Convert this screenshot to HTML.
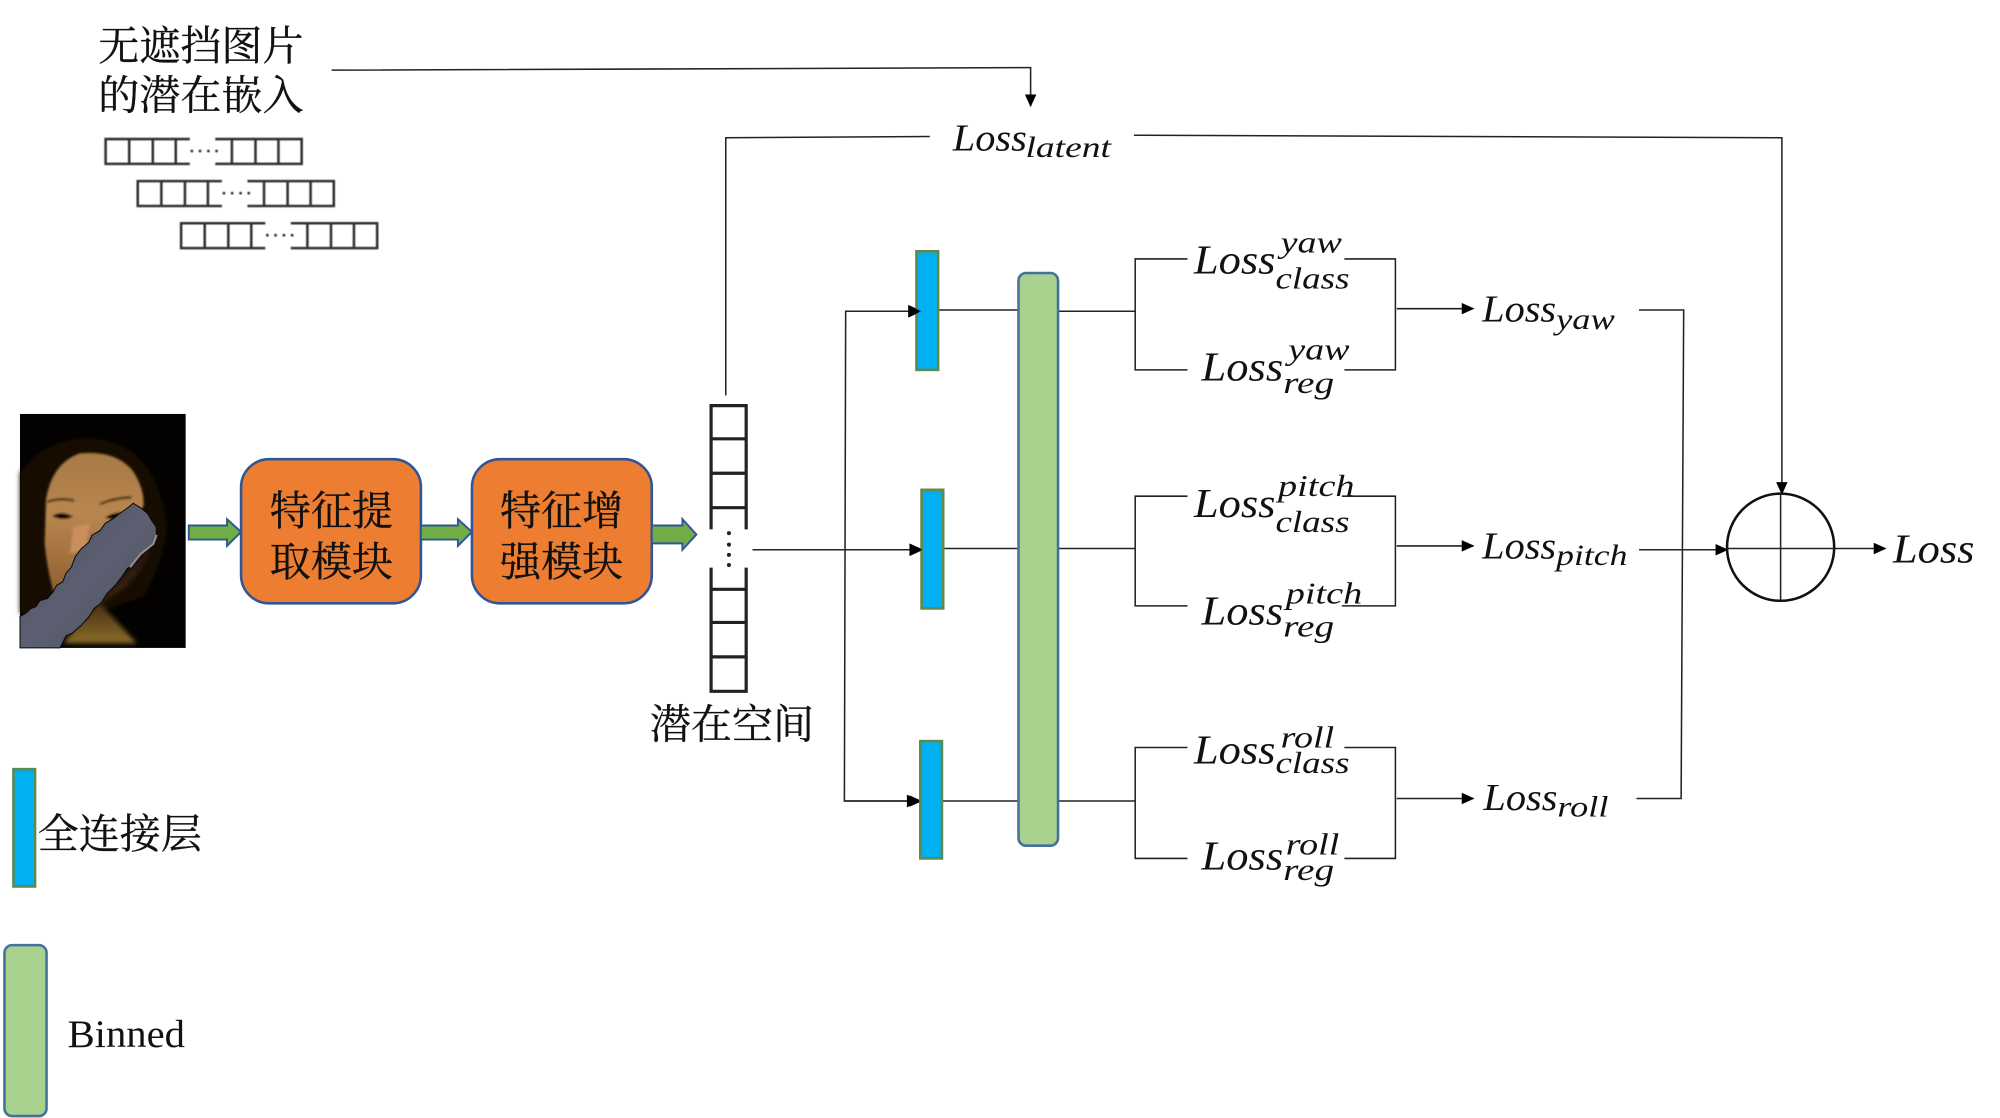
<!DOCTYPE html>
<html><head><meta charset="utf-8"><style>
html,body{margin:0;padding:0;background:#fff}
svg.root{display:block;width:2000px;height:1118px}
.cn{font-family:"Liberation Serif","Noto Serif CJK SC",serif;font-size:32.2px;fill:#111;stroke:#111;stroke-width:.25}
.m{font-family:"Liberation Serif",serif;font-style:italic;fill:#111}
.b{font-size:32px}.s{font-size:24px}.t{font-size:30px}.u{font-size:23px}
.l{fill:none;stroke:#222;stroke-width:1.2}
.c{fill:none;stroke:#333;stroke-width:2}
</style></head><body>
<svg class="root" viewBox="0 0 1568 876.5" xmlns="http://www.w3.org/2000/svg">
<defs>
<marker id="a" markerWidth="10" markerHeight="10" refX="9" refY="4.5" orient="auto" markerUnits="userSpaceOnUse"><path d="M0 0L10 4.5L0 9Z" fill="#000"/></marker>
<linearGradient id="sk" x1="0" y1="0" x2="0" y2="1"><stop offset="0" stop-color="#a87a45"/><stop offset=".45" stop-color="#b98650"/><stop offset="1" stop-color="#8f5f30"/></linearGradient>
<linearGradient id="nk" x1="0" y1="0" x2="0" y2="1"><stop offset="0" stop-color="#1e0e06"/><stop offset=".55" stop-color="#3e260f"/><stop offset="1" stop-color="#8a6c2a"/></linearGradient>
<linearGradient id="bd" x1="0" y1="0" x2="1" y2="1"><stop offset="0" stop-color="#464858"/><stop offset=".5" stop-color="#5c6072"/><stop offset="1" stop-color="#4c4e5a"/></linearGradient>
<filter id="bl" x="-10%" y="-10%" width="120%" height="120%"><feGaussianBlur stdDeviation="7"/></filter>
<filter id="bm" x="-10%" y="-10%" width="120%" height="120%"><feGaussianBlur stdDeviation="3"/></filter>
<filter id="bs"><feGaussianBlur stdDeviation=".35"/></filter>
<g id="cells" filter="url(#bs)"><path class="c" d="M66 0H0V19.5H66M18.5 0V19.5M37 0V19.5M55 0V19.5M86 0H153.7V19.5H86M99 0V19.5M117.5 0V19.5M135.5 0V19.5"/><g fill="#333"><circle cx="67.6" cy="9.4" r="1.1"/><circle cx="74" cy="9.4" r="1.1"/><circle cx="80.6" cy="9.4" r="1.1"/><circle cx="87" cy="9.4" r="1.1"/></g></g>
</defs>

<text class="cn" x="77" y="47">无遮挡图片</text>
<text class="cn" x="77" y="86">的潜在嵌入</text>
<path class="l" d="M260 55L808 53V83" marker-end="url(#a)"/>
<use href="#cells" x="82.8" y="109"/><use href="#cells" x="108" y="142"/><use href="#cells" x="142" y="175"/>

<path class="l" d="M569 310V108L729 107"/>
<path class="l" d="M889 106L1397 108V387" marker-end="url(#a)"/>
<text class="m t" x="747" y="118" textLength="58" lengthAdjust="spacingAndGlyphs">Loss</text>
<text class="m u" x="804" y="123" textLength="67" lengthAdjust="spacingAndGlyphs">latent</text>

<!-- face, drawn in zoom coordinates -->
<g transform="translate(7.84 321.4) scale(.2613)">
<rect x="30" y="12" width="497" height="702" fill="#040201"/>
<path d="M30 190Q90 100 210 85Q340 80 410 170Q470 260 470 370Q450 480 400 560L140 650L30 610Z" fill="#120906" filter="url(#bl)"/>
<path d="M430 400Q400 500 320 550L270 580L380 700H160L200 650Z" fill="url(#nk)" filter="url(#bl)"/>
<g filter="url(#bm)">
<path d="M108 270Q125 160 210 130Q320 120 370 185Q405 240 400 290L130 545Q110 470 104 400Z" fill="url(#sk)"/>
<path d="M190 350L240 340L225 420L180 430Z" fill="#c98f5c"/>
<path d="M125 318Q155 300 190 320Q160 335 125 318ZM285 322Q320 300 355 310Q320 340 285 322Z" fill="#0c0604"/>
<path d="M112 276Q150 262 192 272M270 282Q320 262 365 262" fill="none" stroke="#3a2210" stroke-width="7"/>
</g>
<path d="M30 620L50 608L62 596L78 590L90 572L112 566L130 545L140 526L158 516L168 490L184 472L196 440L214 416L236 398L246 376L270 362L286 340L310 326L330 310L350 296L370 280L392 294L412 310L424 330L438 350L440 380L430 402L412 416L392 432L378 456L352 476L336 500L316 526L290 552L274 578L252 596L236 622L212 648L186 670L168 678L150 714H30Z" fill="url(#bd)" stroke="#0a0a0a" stroke-width="3"/>
<path d="M440 375L430 402L392 432L360 472" fill="none" stroke="#9a8f95" stroke-width="6"/>
</g>

<!-- boxes -->
<rect x="189" y="360" width="141" height="113" rx="22" fill="#ED7D31" stroke="#2F5597" stroke-width="2"/>
<rect x="370" y="360" width="141" height="113" rx="22" fill="#ED7D31" stroke="#2F5597" stroke-width="2"/>
<text class="cn" x="211.500" y="411.500">特征提</text><text class="cn" x="211.500" y="451.500">取模块</text>
<text class="cn" x="392" y="411.500">特征增</text><text class="cn" x="392" y="451.500">强模块</text>

<g fill="#70AD47" stroke="#2F5597" stroke-width="1.5">
<path d="M148 412H178V407L189 417L178 428V423H148Z"/>
<path d="M330 412H359V407L370 417L359 428V423H330Z"/>
<path d="M511 412H535V407L546 419L535 431V426H511Z"/>
</g>

<!-- vector -->
<path d="M557.500 415V318H585V415M557.500 344H585M557.500 371H585M557.500 398H585M557.500 445V542H585V445M557.500 462H585M557.500 488H585M557.500 515H585" fill="none" stroke="#222" stroke-width="2.5"/>
<g fill="#222"><circle cx="571.500" cy="418" r="1.6"/><circle cx="571.500" cy="427" r="1.6"/><circle cx="571.500" cy="435" r="1.6"/><circle cx="571.500" cy="443" r="1.6"/></g>
<text class="cn" x="509.500" y="579">潜在空间</text>

<!-- connectors -->
<path class="l" d="M590 431H723" marker-end="url(#a)"/>
<path class="l" d="M718 244H663L662 628H721" />
<path class="l" d="M663 244H722" marker-end="url(#a)"/>
<path class="l" d="M662 628H722" marker-end="url(#a)"/>
<path class="l" d="M736 243H798M740 430H798M739 628H800M830 244H890M830 430H890M830 628H890"/>

<rect x="718.500" y="197" width="17" height="93" fill="#00B0F0" stroke="#5d8a4d" stroke-width="2"/>
<rect x="722.500" y="384" width="17" height="93" fill="#00B0F0" stroke="#5d8a4d" stroke-width="2"/>
<rect x="721.500" y="581" width="17" height="92" fill="#00B0F0" stroke="#5d8a4d" stroke-width="2"/>
<path d="M712 239L722 244L712 249ZM713 426L723 431L713 436ZM711 623L721 628L711 633Z" fill="#000"/>
<rect x="798.500" y="214" width="31" height="449" rx="6" fill="#A9D18E" stroke="#41719C" stroke-width="2"/>

<!-- brackets -->
<path class="l" d="M931 203H890V290H931M1054 203H1094V290H1054"/>
<path class="l" d="M931 389H890V475H931M1052 389H1094V475H1052"/>
<path class="l" d="M931 586H890V673H931M1054 586H1094V673H1054"/>
<path class="l" d="M1095 242H1155" marker-end="url(#a)"/>
<path class="l" d="M1095 428H1155" marker-end="url(#a)"/>
<path class="l" d="M1095 626H1155" marker-end="url(#a)"/>
<path class="l" d="M1285 243H1320L1318 626H1283"/>
<path class="l" d="M1285 431H1354" marker-end="url(#a)"/>
<path class="l" d="M1438 430H1478" marker-end="url(#a)"/>
<circle cx="1396" cy="429" r="42" fill="none" stroke="#111" stroke-width="2"/>
<path class="l" d="M1396 387V471M1354 430H1438"/>

<!-- math -->
<g>
<text class="m b" x="936" y="214.500" textLength="64" lengthAdjust="spacingAndGlyphs">Loss</text><text class="m s" x="1004" y="198" textLength="48" lengthAdjust="spacingAndGlyphs">yaw</text><text class="m s" x="1000" y="226" textLength="58" lengthAdjust="spacingAndGlyphs">class</text>
<text class="m b" x="942" y="298.500" textLength="64" lengthAdjust="spacingAndGlyphs">Loss</text><text class="m s" x="1010" y="282" textLength="48" lengthAdjust="spacingAndGlyphs">yaw</text><text class="m s" x="1006" y="308" textLength="40" lengthAdjust="spacingAndGlyphs">reg</text>
<text class="m b" x="936" y="405.500" textLength="64" lengthAdjust="spacingAndGlyphs">Loss</text><text class="m s" x="1002" y="389" textLength="60" lengthAdjust="spacingAndGlyphs">pitch</text><text class="m s" x="1000" y="417" textLength="58" lengthAdjust="spacingAndGlyphs">class</text>
<text class="m b" x="942" y="489.500" textLength="64" lengthAdjust="spacingAndGlyphs">Loss</text><text class="m s" x="1008" y="473" textLength="60" lengthAdjust="spacingAndGlyphs">pitch</text><text class="m s" x="1006" y="499" textLength="40" lengthAdjust="spacingAndGlyphs">reg</text>
<text class="m b" x="936" y="598.500" textLength="64" lengthAdjust="spacingAndGlyphs">Loss</text><text class="m s" x="1004" y="586" textLength="42" lengthAdjust="spacingAndGlyphs">roll</text><text class="m s" x="1000" y="606" textLength="58" lengthAdjust="spacingAndGlyphs">class</text>
<text class="m b" x="942" y="681.500" textLength="64" lengthAdjust="spacingAndGlyphs">Loss</text><text class="m s" x="1008" y="670" textLength="42" lengthAdjust="spacingAndGlyphs">roll</text><text class="m s" x="1006" y="690" textLength="40" lengthAdjust="spacingAndGlyphs">reg</text>
<text class="m t" x="1162" y="252" textLength="58" lengthAdjust="spacingAndGlyphs">Loss</text><text class="m u" x="1220" y="258" textLength="46" lengthAdjust="spacingAndGlyphs">yaw</text>
<text class="m t" x="1162" y="438" textLength="58" lengthAdjust="spacingAndGlyphs">Loss</text><text class="m u" x="1220" y="443" textLength="56" lengthAdjust="spacingAndGlyphs">pitch</text>
<text class="m t" x="1163" y="635" textLength="58" lengthAdjust="spacingAndGlyphs">Loss</text><text class="m u" x="1221" y="640" textLength="40" lengthAdjust="spacingAndGlyphs">roll</text>
<text class="m b" x="1484" y="441" textLength="64" lengthAdjust="spacingAndGlyphs">Loss</text>
</g>

<!-- legend -->
<rect x="10.500" y="603" width="17" height="92" fill="#00B0F0" stroke="#5d8a4d" stroke-width="2"/>
<text class="cn" x="29.500" y="665">全连接层</text>
<rect x="3.500" y="741" width="33" height="134" rx="6" fill="#A9D18E" stroke="#41719C" stroke-width="2"/>
<text x="53" y="821" font-family="Liberation Serif" font-size="31" fill="#111" textLength="92" lengthAdjust="spacingAndGlyphs">Binned</text>
</svg>
</body></html>
